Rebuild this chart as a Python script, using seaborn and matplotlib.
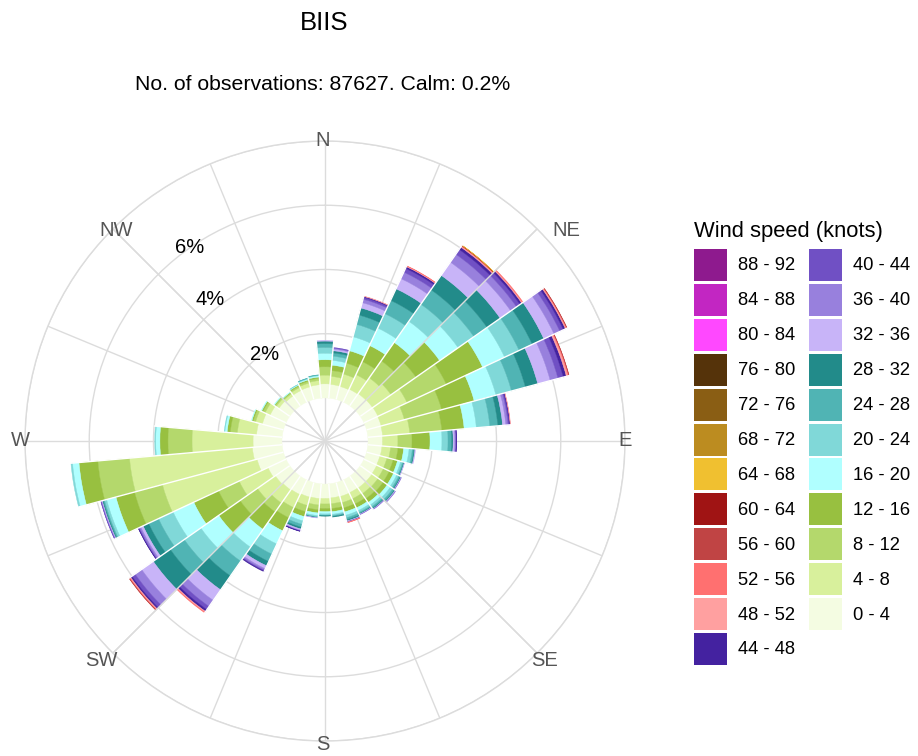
import numpy as np
import matplotlib
matplotlib.use("Agg")
import matplotlib.pyplot as plt
import seaborn as sns
from matplotlib.patches import Rectangle

sns.set_theme(style="white")
plt.rcParams['font.family'] = ['Liberation Sans', 'DejaVu Sans']

# ---------------- data ----------------
title = "BIIS"
subtitle = "No. of observations: 87627. Calm: 0.2%"
legend_title = "Wind speed (knots)"

directions = [0, 10, 20, 30, 40, 50, 60, 70, 80, 90, 100, 110, 120, 130, 140, 150, 160, 170,
              180, 190, 200, 210, 220, 230, 240, 250, 260, 270, 280, 290, 300, 310, 320, 330, 340, 350]

speed_bins = ["0 - 4", "4 - 8", "8 - 12", "12 - 16", "16 - 20", "20 - 24", "24 - 28", "28 - 32",
              "32 - 36", "36 - 40", "40 - 44", "44 - 48", "48 - 52", "52 - 56", "56 - 60", "60 - 64",
              "64 - 68", "68 - 72", "72 - 76", "76 - 80", "80 - 84", "84 - 88", "88 - 92"]

bin_colors = ["#F4FCE2", "#D8F09C", "#B4D86C", "#98C040", "#B0FFFF", "#80D8D8", "#50B4B4", "#228B8A",
              "#C8B4F8", "#9880DD", "#7050C4", "#4422A0", "#FFA0A0", "#FF7070", "#C04444", "#A01414",
              "#F0C030", "#BC8C20", "#8A5E14", "#55330A", "#FF48FF", "#C226C2", "#8E1A8E"]

# frequency (%) per direction for each speed bin
f_0_4   = [.44, .43, .42, .44, .46, .47, .48, .47, .46, .45, .44, .43, .44, .45, .45, .44, .45, .44,
           .45, .46, .47, .50, .52, .55, .62, .85, .93, .90, .80, .68, .55, .42, .38, .40, .41, .42]
f_4_8   = [.27, .25, .40, .50, .60, .70, 1.00, .75, .85, .48, .27, .23, .23, .23, .22, .21, .20, .18,
           .17, .20, .27, .45, .50, .68, .99, 3.05, 3.84, 1.90, .60, .22, .17, .10, .08, .10, .12, .13]
f_8_12  = [.26, .18, .35, .45, .65, .95, 1.35, 1.20, 1.00, .44, .23, .20, .20, .20, .19, .18, .17, .15,
           .14, .15, .20, .35, .34, .66, .71, .90, .99, .75, .22, .08, .08, .05, .04, .05, .06, .07]
f_12_16 = [.22, .17, .40, .55, .70, .90, 1.25, 1.05, .70, .56, .18, .14, .15, .15, .14, .13, .13, .10,
           .10, .10, .16, .45, .66, .81, .85, .60, .59, .25, .10, .04, .04, .02, .02, .03, .04, .04]
f_16_20 = [.20, .15, .45, .60, .80, .70, .75, .70, .38, .37, .17, .10, .11, .12, .10, .10, .11, .08,
           .07, .08, .14, .45, .68, .68, .71, .30, .20, .13, .07, .02, .02, .02, .01, .02, .03, .04]
f_20_24 = [.18, .13, .40, .50, .65, .60, .50, .50, .42, .19, .10, .06, .07, .09, .07, .06, .08, .04,
           .04, .04, .11, .35, .53, .63, .50, .07, .05, .03, .02, 0, 0, 0, 0, .01, .02, .02]
f_24_28 = [.12, .10, .30, .45, .55, .50, .45, .45, .25, .11, .05, .04, .05, .06, .05, .04, .06, .03,
           .02, .02, .09, .25, .56, .53, .34, .04, 0, 0, 0, 0, 0, 0, 0, 0, .01, .01]
f_28_32 = [.08, .07, .23, .40, .55, .50, .40, .40, .15, .05, .03, .02, .03, .03, .03, .02, .04, .02,
           .01, .01, .06, .15, .53, .65, .19, .03, 0, 0, 0, 0, 0, 0, 0, 0, 0, 0]
f_32_36 = [.02, .05, .17, .35, .50, .40, .35, .40, .10, .05, .02, .01, .01, .02, .01, .01, .02, 0,
           0, .01, .04, .10, .40, .44, .08, .02, 0, 0, 0, 0, 0, 0, 0, 0, 0, 0]
f_36_40 = [0, .03, .11, .22, .30, .22, .20, .25, .07, .03, 0, 0, .01, .01, .01, .01, .01, 0,
           0, 0, .02, .05, .23, .25, .05, .02, 0, 0, 0, 0, 0, 0, 0, 0, 0, 0]
f_40_44 = [0, .02, .06, .13, .18, .13, .12, .17, .04, .02, 0, 0, 0, 0, 0, 0, .01, 0,
           0, 0, .01, .03, .12, .12, .03, .01, 0, 0, 0, 0, 0, 0, 0, 0, 0, 0]
f_44_48 = [0, 0, .03, .06, .09, .07, .07, .10, .03, .01, 0, 0, 0, 0, 0, 0, 0, 0,
           0, 0, .01, .02, .07, .05, .01, 0, 0, 0, 0, 0, 0, 0, 0, 0, 0, 0]
f_48_52 = [0, 0, .01, .02, .03, .03, .03, .05, .01, 0, 0, 0, 0, 0, 0, 0, .01, 0,
           0, 0, 0, 0, .03, .03, 0, 0, 0, 0, 0, 0, 0, 0, 0, 0, 0, 0]
f_52_56 = [0, 0, 0, .01, .02, .02, .02, .03, 0, 0, 0, 0, 0, 0, 0, 0, .01, 0,
           0, 0, 0, 0, .02, .02, 0, 0, 0, 0, 0, 0, 0, 0, 0, 0, 0, 0]
f_56_60 = [0, 0, 0, 0, .01, 0, .01, .01, 0, 0, 0, 0, 0, 0, 0, 0, 0, 0,
           0, 0, 0, 0, 0, .01, 0, 0, 0, 0, 0, 0, 0, 0, 0, 0, 0, 0]
f_60_64 = [0, 0, 0, 0, .005, 0, 0, 0, 0, 0, 0, 0, 0, 0, 0, 0, 0, 0,
           0, 0, 0, 0, 0, 0, 0, 0, 0, 0, 0, 0, 0, 0, 0, 0, 0, 0]
f_64_68 = [0, 0, 0, 0, .005, 0, 0, 0, 0, 0, 0, 0, 0, 0, 0, 0, 0, 0,
           0, 0, 0, 0, 0, 0, 0, 0, 0, 0, 0, 0, 0, 0, 0, 0, 0, 0]
f_zero = [0] * 36   # 68 knots and above: not observed

series = [f_0_4, f_4_8, f_8_12, f_12_16, f_16_20, f_20_24, f_24_28, f_28_32, f_32_36, f_36_40,
          f_40_44, f_44_48, f_48_52, f_52_56, f_56_60, f_60_64, f_64_68,
          f_zero, f_zero, f_zero, f_zero, f_zero, f_zero]

ring_ticks = [2, 4, 6, 8]
ring_labels = ["2%", "4%", "6%"]
compass = ["N", "NE", "E", "SE", "S", "SW", "W", "NW"]

# ---------------- figure ----------------
W, H = 918, 756
fig = plt.figure(figsize=(W / 100, H / 100), dpi=100)
fig.patch.set_facecolor("white")

cx, cy, R = 325, 441, 300
ax = fig.add_axes([(cx - R) / W, (H - cy - R) / H, 2 * R / W, 2 * R / H], projection="polar")
ax.set_theta_zero_location("N")
ax.set_theta_direction(-1)
hole = 1.34
ax.set_ylim(-hole, 8)
ax.set_facecolor("white")

gridc = "#DCDCDC"
ax.set_xticks(np.deg2rad(np.arange(0, 360, 22.5)))
ax.set_xticklabels([])
ax.set_yticks(ring_ticks)
ax.set_yticklabels([])
ax.grid(True, color=gridc, linewidth=1.0)
ax.spines["polar"].set_color(gridc)
ax.spines["polar"].set_linewidth(1.0)
ax.set_axisbelow(True)

theta = np.deg2rad(directions)
width = np.deg2rad(10)
bottom = np.zeros(len(directions))
for vals, col in zip(series, bin_colors):
    v = np.array(vals, dtype=float)
    m = v > 0
    if m.any():
        ax.bar(theta[m], v[m], width=width, bottom=bottom[m], color=col, edgecolor=col,
               linewidth=0.3, zorder=2, align="center")
    bottom = bottom + v
totals = bottom

# white separators between adjacent direction wedges
n = len(directions)
for k in range(n):
    a = directions[k] + 5
    rmax = max(totals[k], totals[(k + 1) % n]) + 0.05
    if a % 90 == 45:
        ax.plot([np.deg2rad(a)] * 2, [-hole, 8], color=gridc, lw=1.0, zorder=3)
    else:
        ax.plot([np.deg2rad(a)] * 2, [0, rmax], color="white", lw=1.0, zorder=3,
                solid_capstyle="butt")

# ring labels
lab_pos = [(325.1, 1.93), (320.8, 4.33), (325.0, 6.0)]
for (ang, r), txt in zip(lab_pos, ring_labels):
    ax.text(np.deg2rad(ang), r, txt, fontsize=14.5, color="black", ha="center", va="center", zorder=5)

# compass labels (pixel positions)
comp_px = [(323, 140), (566, 231), (625, 441), (545, 661), (323, 745), (101, 661), (20, 441), (116, 231)]
for (x, y), txt in zip(comp_px, compass):
    fig.text(x / W, 1 - y / H, txt, fontsize=14.5, color="#555555", ha="center", va="center")

fig.text(324 / W, 1 - 23 / H, title, fontsize=18.5, ha="center", va="center", color="black")
fig.text(323 / W, 1 - 84 / H, subtitle, fontsize=15.3, ha="center", va="center", color="black")

# legend (two columns, descending order)
fig.text(694 / W, 1 - 232 / H, legend_title, fontsize=15.8, ha="left", va="center", color="black")
order = list(range(len(speed_bins)))[::-1]
col_x = [694, 809]
for idx, b in enumerate(order):
    c = 0 if idx < 12 else 1
    row = idx if idx < 12 else idx - 12
    top = 249 + 34.9 * row
    fig.add_artist(Rectangle((col_x[c] / W, 1 - (top + 32) / H), 33 / W, 32 / H,
                             transform=fig.transFigure, facecolor=bin_colors[b],
                             edgecolor="none"))
    fig.text((col_x[c] + 44) / W, 1 - (top + 17) / H, speed_bins[b], fontsize=13.2,
             ha="left", va="center", color="black")

fig.savefig("out.png", dpi=100, facecolor="white")
